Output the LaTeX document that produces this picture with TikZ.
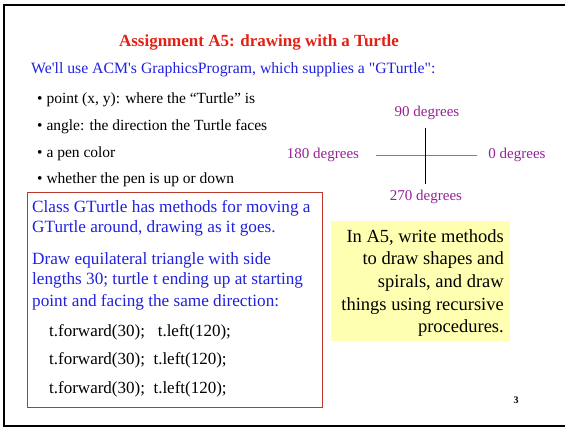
\documentclass[tikz,border=0pt]{standalone}
\usepackage{fontspec}
\setmainfont{Liberation Serif}
\definecolor{titlered}{RGB}{228,32,20}
\definecolor{textblue}{RGB}{32,32,224}
\definecolor{degpurple}{RGB}{150,32,150}
\definecolor{boxred}{RGB}{185,55,45}
\definecolor{noteyellow}{RGB}{255,255,178}
\begin{document}
\begin{tikzpicture}[x=1pt,y=-1pt,line width=0.4pt,every node/.style={inner sep=0pt,anchor=west,font=\fontsize{15.5}{18}\selectfont}]
\useasboundingbox (0,0) rectangle (565,429);
\coordinate (FA) at (566,5);
\coordinate (FB) at (4,5);
\coordinate (FC) at (4,426);
\coordinate (FD) at (566,426);
\coordinate (W) at (376,155.5);
\coordinate (E) at (477,155.5);
\coordinate (N) at (425,128);
\coordinate (S) at (425,184);
\draw[line width=2pt] (FA) -- (FB) -- (FC) -- (FD);
% boxes
\draw[boxred,line width=0.9pt] (27,192) rectangle (322,407);
\fill[noteyellow] (331,221) rectangle (510,341);
% compass
\draw[gray,line width=1.6pt] (W) -- (E);
\draw[line width=0.8pt] (N) -- (S);
\node[anchor=center,titlered,font=\fontsize{17}{20}\selectfont\bfseries] (title) at (259,42) {Assignment A5: drawing with a Turtle};
\node[textblue,font=\fontsize{15.75}{18}\selectfont] (intro) at (31,70) {We\textquotesingle ll use ACM\textquotesingle s GraphicsProgram, which supplies a \textquotedbl GTurtle\textquotedbl:};
\node (b1) at (37,100) {\textbullet\ point (x, y): where the “Turtle” is};
\node (b2) at (37,127) {\textbullet\ angle: the direction the Turtle faces};
\node (b3) at (37,154) {\textbullet\ a pen color};
\node (b4) at (37,180) {\textbullet\ whether the pen is up or down};
\begin{scope}[every node/.append style={degpurple,anchor=center,font=\fontsize{15}{17}\selectfont}]
\node (d90) at (427,113) {90 degrees};
\node (d180) at (323,155) {180 degrees};
\node (d0) at (517,155) {0 degrees};
\node (d270) at (426,197) {270 degrees};
\end{scope}
\begin{scope}[every node/.append style={textblue,font=\fontsize{17.2}{20}\selectfont}]
\node (c1) at (32,208) {Class GTurtle has methods for moving a};
\node (c2) at (32,228) {GTurtle around, drawing as it goes.};
\node (c3) at (32,260) {Draw equilateral triangle with side};
\node (c4) at (32,280) {lengths 30; turtle t ending up at starting};
\node (c5) at (32,302) {point and facing the same direction:};
\end{scope}
\begin{scope}[every node/.append style={font=\fontsize{17}{20}\selectfont}]
\node (t1) at (49,332) {t.forward(30); \ \ t.left(120);};
\node (t2) at (49,360) {t.forward(30); \ t.left(120);};
\node (t3) at (49,389) {t.forward(30); \ t.left(120);};
\end{scope}
\begin{scope}[every node/.append style={anchor=east,font=\fontsize{18.5}{22}\selectfont}]
\node (n1) at (504,237) {In A5, write methods};
\node (n2) at (504,260) {to draw shapes and};
\node (n3) at (504,283) {spirals, and draw};
\node (n4) at (504,306) {things using recursive};
\node (n5) at (504,328) {procedures.};
\end{scope}
\node[anchor=center,font=\fontsize{10}{12}\selectfont\bfseries] (page) at (516,400) {3};
\end{tikzpicture}
\end{document}
